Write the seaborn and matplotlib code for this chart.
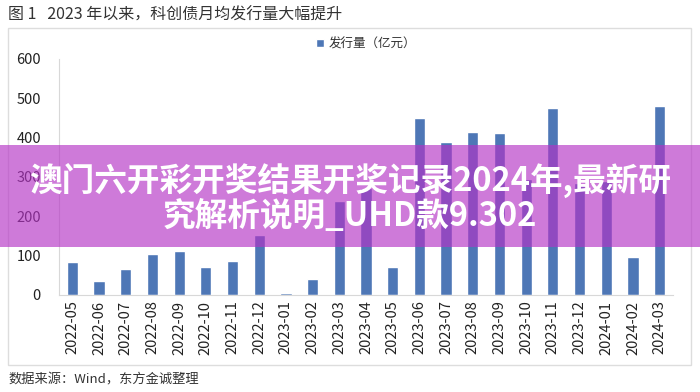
import numpy as np
import pandas as pd
import matplotlib
matplotlib.use("Agg")
import matplotlib.pyplot as plt
import matplotlib.patches as mpatches
import seaborn as sns

# monthly issuance of sci-tech bonds (亿元)
months = ["2022-05", "2022-06", "2022-07", "2022-08", "2022-09", "2022-10",
          "2022-11", "2022-12", "2023-01", "2023-02", "2023-03", "2023-04",
          "2023-05", "2023-06", "2023-07", "2023-08", "2023-09", "2023-10",
          "2023-11", "2023-12", "2024-01", "2024-02", "2024-03"]
issuance = [85, 36, 65, 104, 113, 72, 87, 152, 4, 40, 239, 271,
            72, 451, 388, 415, 413, 295, 475, 285, 290, 96, 481]
yticks = [0, 100, 200, 300, 400, 500, 600]

title = "图 1   2023 年以来，科创债月均发行量大幅提升"
series_name = "发行量（亿元）"
source = "数据来源：Wind，东方金诚整理"
banner_lines = ["澳门六开彩开奖结果开奖记录2024年,最新研", "究解析说明_UHD款9.302"]

sns.set_theme(style="white")
plt.rcParams['font.family'] = ['Noto Sans CJK SC', 'DejaVu Sans']

df = pd.DataFrame({"month": months, "value": issuance})

fig = plt.figure(figsize=(7, 3.92), dpi=100)
ax = fig.add_axes([59 / 700, 1 - 295 / 392, (673 - 59) / 700, (295 - 59) / 392])

sns.barplot(data=df, x="month", y="value", order=months, color="#4e77b6",
            saturation=1, width=0.42, label=series_name, ax=ax)

ax.set_xlim(-0.5, len(months) - 0.5)
ax.set_ylim(0, 600)
ax.set_yticks(yticks)
ax.set_xlabel("")
ax.set_ylabel("")
ax.tick_params(axis="x", rotation=90, labelsize=10.5, length=0, pad=4, colors="#222222")
ax.tick_params(axis="y", labelsize=10.5, length=4, width=0.8, pad=9, colors="#222222")
ax.tick_params(axis="y", color="#d8d8d8")
for s in ["top", "right"]:
    ax.spines[s].set_visible(False)
ax.spines["left"].set_color("#d8d8d8")
ax.spines["bottom"].set_color("#d8d8d8")
ax.spines["left"].set_linewidth(0.8)
ax.spines["bottom"].set_linewidth(0.8)

leg = ax.legend(loc="upper center", bbox_to_anchor=(0.5, 1.14), frameon=False,
                fontsize=9, handlelength=0.6, handleheight=0.6, handletextpad=0.4)
for t in leg.get_texts():
    t.set_color("#333333")

# outer frame around the chart
fig.patches.append(mpatches.Rectangle((8 / 700, 1 - 365 / 392), 683 / 700, 337 / 392,
                                      transform=fig.transFigure, fill=False,
                                      edgecolor="#dddddd", linewidth=1))

fig.text(8 / 700, 1 - 15 / 392, title, fontsize=11.5, color="#333333",
         ha="left", va="center")
fig.text(8 / 700, 1 - 380 / 392, source, fontsize=9.5, color="#333333",
         ha="left", va="center")

# pink overlay banner
fig.patches.append(mpatches.Rectangle((0, 1 - 247 / 392), 1, 102 / 392,
                                      transform=fig.transFigure, facecolor="#b533c6",
                                      alpha=0.65, edgecolor="none", zorder=5))
fig.text(0.5, 1 - 180 / 392, banner_lines[0], fontsize=23.5, fontweight="bold",
         color="white", ha="center", va="center", zorder=6)
fig.text(0.5, 1 - 216 / 392, banner_lines[1], fontsize=23.5, fontweight="bold",
         color="white", ha="center", va="center", zorder=6)

fig.savefig("out.png", dpi=100)
